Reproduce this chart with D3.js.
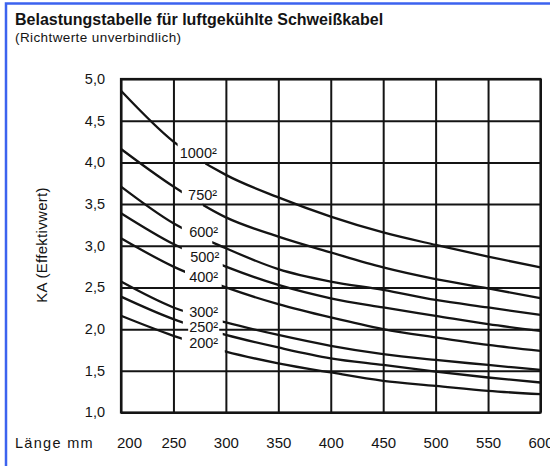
<!DOCTYPE html>
<html lang="de">
<head>
    <meta charset="utf-8">
    <title>Belastungstabelle für luftgekühlte Schweißkabel</title>
    <style>
        body {
            margin: 0;
            background: #fff;
        }

        text {
            font-family: "Liberation Sans", Arial, sans-serif;
            fill: #141414;
        }

        .grid line {
            stroke: #141414;
            stroke-width: 2px;
        }

        .curve {
            fill: none;
            stroke: #141414;
            stroke-width: 2.3px;
        }
    </style>
</head>

<body>
<script src="https://d3js.org/d3.v7.min.js"></script>

<script>

    // Länge in mm (x) and KA Effektivwert per cable section (y)
    var lengths = [200, 250, 300, 350, 400, 450, 500, 550, 600];
    var sections = ["1000", "750", "600", "500", "400", "300", "250", "200"];

    var ka1000 = [4.86, 4.25, 3.85, 3.58, 3.35, 3.16, 3.01, 2.87, 2.74];
    var ka750 = [4.16, 3.71, 3.34, 3.11, 2.92, 2.74, 2.60, 2.49, 2.37];
    var ka600 = [3.71, 3.27, 2.97, 2.72, 2.57, 2.47, 2.35, 2.26, 2.17];
    var ka500 = [3.39, 3.02, 2.75, 2.53, 2.37, 2.26, 2.16, 2.06, 1.98];
    var ka400 = [3.09, 2.75, 2.50, 2.30, 2.14, 2.00, 1.90, 1.81, 1.74];
    var ka300 = [2.57, 2.26, 2.08, 1.93, 1.80, 1.70, 1.63, 1.57, 1.51];
    var ka250 = [2.39, 2.12, 1.93, 1.78, 1.65, 1.57, 1.49, 1.42, 1.36];
    var ka200 = [2.16, 1.92, 1.73, 1.59, 1.48, 1.38, 1.32, 1.26, 1.22];

    var yTicks = [1.0, 1.5, 2.0, 2.5, 3.0, 3.5, 4.0, 4.5, 5.0];
    var xTicks = [200, 250, 300, 350, 400, 450, 500, 550, 600];

    var allSeries = [ka1000, ka750, ka600, ka500, ka400, ka300, ka250, ka200];

    // where the curve labels sit and where each curve is broken for them
    var labelLayout = [
        {x: 256, y: 4.05, gapFrom: 254, gapTo: 280},
        {x: 264, y: 3.55, gapFrom: 258, gapTo: 278},
        {x: 265, y: 3.11, gapFrom: 258, gapTo: 287},
        {x: 266, y: 2.81, gapFrom: 258, gapTo: 297},
        {x: 265, y: 2.56, gapFrom: 261, gapTo: 296},
        {x: 265, y: 2.15, gapFrom: 259, gapTo: 297},
        {x: 265, y: 1.96, gapFrom: 259, gapTo: 297},
        {x: 265, y: 1.77, gapFrom: 258, gapTo: 299}
    ];

    var width = 550,
        height = 466;

    var plot = {left: 121, right: 540.5, top: 79, bottom: 412.5};

    var svg = d3.select("body").append("svg")
        .attr("width", width)
        .attr("height", height);

    svg.append("rect")
        .attr("width", width)
        .attr("height", height)
        .attr("fill", "#fff");

    // blue frame of the original picture
    svg.append("path")
        .attr("d", "M6," + height + " V3.5 H" + width)
        .attr("fill", "none")
        .attr("stroke", "#3c63ef")
        .attr("stroke-width", 2.5);

    svg.append("text")
        .attr("x", 15)
        .attr("y", 25)
        .style("font-size", "16px")
        .style("font-weight", "bold")
        .text("Belastungstabelle für luftgekühlte Schweißkabel");

    svg.append("text")
        .attr("x", 15)
        .attr("y", 42)
        .style("font-size", "13.5px")
        .style("letter-spacing", "0.4px")
        .text("(Richtwerte unverbindlich)");

    var x = d3.scaleLinear()
        .domain([200, 600])
        .range([plot.left, plot.right]);

    var y = d3.scaleLinear()
        .domain([1, 5])
        .range([plot.bottom, plot.top]);

    var yAxis = d3.axisLeft(y)
        .tickValues(yTicks)
        .tickSize(-(plot.right - plot.left))
        .tickSizeOuter(0)
        .tickPadding(16)
        .tickFormat(function (d) {
            return d3.format(".1f")(d).replace(".", ",");
        });

    var gy = svg.append("g")
        .attr("class", "grid")
        .attr("transform", "translate(" + plot.left + ",0)")
        .call(yAxis);
    gy.select(".domain").remove();
    gy.selectAll("text")
        .style("font-size", "14.5px")
        .attr("dy", "0.3em");

    var xAxis = d3.axisBottom(x)
        .tickValues(xTicks)
        .tickSize(-(plot.bottom - plot.top))
        .tickSizeOuter(0)
        .tickPadding(25);

    var gx = svg.append("g")
        .attr("class", "grid")
        .attr("transform", "translate(0," + plot.bottom + ")")
        .call(xAxis);
    gx.select(".domain").remove();
    gx.selectAll("text")
        .style("font-size", "15px")
        .attr("dx", function (d) {
            return d === 200 ? 8 : 0;
        });

    svg.append("text")
        .attr("x", 15)
        .attr("y", 448)
        .style("font-size", "14.5px")
        .style("letter-spacing", "1.3px")
        .text("Länge mm");

    svg.append("text")
        .attr("transform", "translate(47,245) rotate(-90)")
        .style("font-size", "15px")
        .style("letter-spacing", "0.3px")
        .style("text-anchor", "middle")
        .text("KA (Effektivwert)");

    svg.append("rect")
        .attr("x", plot.left)
        .attr("y", plot.top)
        .attr("width", plot.right - plot.left)
        .attr("height", plot.bottom - plot.top)
        .attr("fill", "none")
        .attr("stroke", "#141414")
        .attr("stroke-width", 2.2);

    // clip each curve so that it is broken where its label sits
    var defs = svg.append("defs");
    labelLayout.forEach(function (l, i) {
        var cp = defs.append("clipPath").attr("id", "gap" + i);
        cp.append("rect")
            .attr("x", plot.left - 3)
            .attr("y", 0)
            .attr("width", x(l.gapFrom) - plot.left + 3)
            .attr("height", height);
        cp.append("rect")
            .attr("x", x(l.gapTo))
            .attr("y", 0)
            .attr("width", plot.right + 3 - x(l.gapTo))
            .attr("height", height);
    });

    var line = d3.line()
        .x(function (d, i) {
            return x(lengths[i]);
        })
        .y(function (d) {
            return y(d);
        })
        .curve(d3.curveMonotoneX);

    svg.selectAll(".curve")
        .data(allSeries)
        .enter()
        .append("path")
        .attr("class", "curve")
        .attr("clip-path", function (d, i) {
            return "url(#gap" + i + ")";
        })
        .attr("d", line);

    var labels = svg.selectAll(".curveLabel")
        .data(sections)
        .enter()
        .append("g")
        .attr("class", "curveLabel")
        .attr("transform", function (d, i) {
            return "translate(" + x(labelLayout[i].x) + "," + y(labelLayout[i].y) + ")";
        });
    labels.append("rect")
        .attr("fill", "#fff");
    labels.append("text")
        .style("font-size", "14.5px")
        .text(function (d) {
            return d + "²";
        });
    labels.each(function () {
        var g = d3.select(this);
        var w = g.select("text").node().getComputedTextLength();
        g.select("rect")
            .attr("x", -1)
            .attr("y", -11)
            .attr("width", w + 2)
            .attr("height", 12);
    });

</script>

</body>
</html>
